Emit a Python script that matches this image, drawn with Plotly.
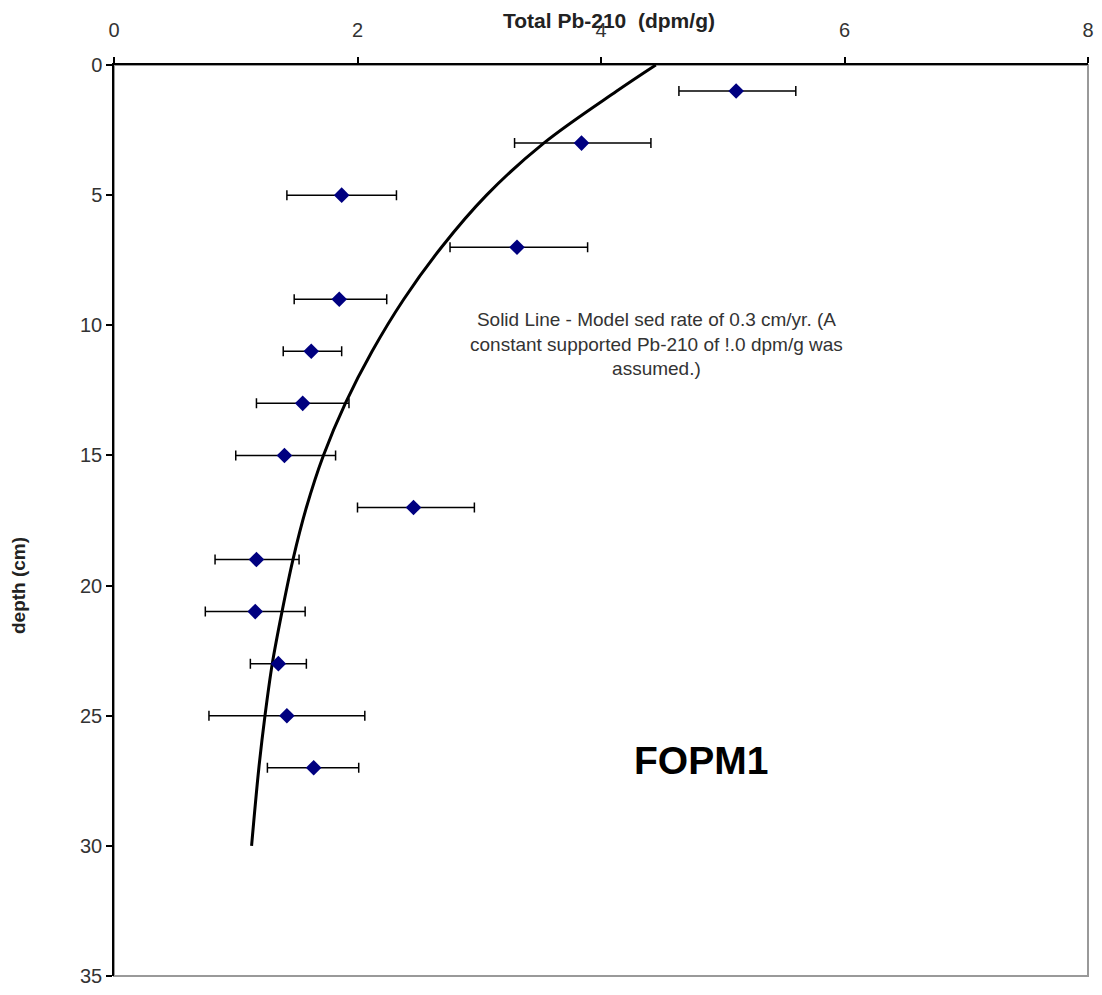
import plotly.graph_objects as go

# Measured Pb-210 data
depth = [1, 3, 5, 7, 9, 11, 13, 15, 17, 19, 21, 23, 25, 27]
pb210 = [5.11, 3.84, 1.87, 3.31, 1.85, 1.62, 1.55, 1.40, 2.46, 1.17, 1.16, 1.35, 1.42, 1.64]
err_plus = [0.49, 0.57, 0.45, 0.58, 0.39, 0.25, 0.38, 0.42, 0.50, 0.35, 0.41, 0.23, 0.64, 0.37]
err_minus = [0.47, 0.55, 0.45, 0.55, 0.37, 0.23, 0.38, 0.40, 0.46, 0.34, 0.41, 0.23, 0.64, 0.38]

# Model curve
model_depth = [0, 1, 3, 5, 7, 9, 11, 13, 15, 17, 19, 21, 23, 25, 27, 30]
model_pb = [4.45, 4.13, 3.53, 3.06, 2.69, 2.38, 2.12, 1.90, 1.72, 1.58, 1.47, 1.38,
            1.30, 1.24, 1.19, 1.13]

x_ticks = [0, 2, 4, 6, 8]
y_ticks = [0, 5, 10, 15, 20, 25, 30, 35]

FONT = "Liberation Sans, Arial, sans-serif"

fig = go.Figure()

fig.add_trace(go.Scatter(
    x=model_pb, y=model_depth, mode="lines",
    line=dict(color="black", width=3, shape="spline", smoothing=1.0),
    showlegend=False, hoverinfo="skip",
))

fig.add_trace(go.Scatter(
    x=pb210, y=depth, mode="markers",
    marker=dict(symbol="diamond", size=12, color="#000080"),
    error_x=dict(type="data", symmetric=False, array=err_plus, arrayminus=err_minus,
                 color="black", thickness=1.5, width=5),
    showlegend=False,
))

fig.update_layout(
    width=1102, height=995,
    margin=dict(l=114, r=8, t=65, b=11),
    paper_bgcolor="white", plot_bgcolor="white",
    font=dict(family=FONT, color="#222"),
    xaxis=dict(
        side="top", range=[0, 8], tickvals=x_ticks, ticktext=[str(v) for v in x_ticks],
        showgrid=False, zeroline=False, showline=True, linecolor="black", linewidth=1.5,
        ticks="outside", ticklen=6, tickcolor="black", tickwidth=1.5,
        tickfont=dict(family=FONT, size=20, color="#333"), ticklabelstandoff=12,
    ),
    yaxis=dict(
        range=[35, 0], tickvals=y_ticks, ticktext=[str(v) for v in y_ticks],
        showgrid=False, zeroline=False, showline=True, linecolor="black", linewidth=1.5,
        ticks="outside", ticklen=6, tickcolor="black", tickwidth=1.5,
        tickfont=dict(family=FONT, size=20, color="#333"), ticklabelstandoff=0,
    ),
    shapes=[dict(type="rect", xref="paper", yref="paper", x0=0, y0=0, x1=1, y1=1,
                 line=dict(color="#999999", width=2), layer="below")],
    annotations=[
        dict(text="<b>Total Pb-210  (dpm/g)</b>", xref="paper", yref="paper",
             x=(612 - 114) / 980, y=1 + (65 - 20) / 919, showarrow=False,
             font=dict(family=FONT, size=21, color="#222"), xanchor="center", yanchor="middle"),
        dict(text="<b>depth (cm)</b>", xref="paper", yref="paper",
             x=(18 - 114) / 980, y=(984 - 590) / 919, showarrow=False, textangle=-90,
             font=dict(family=FONT, size=19, color="#222"), xanchor="center", yanchor="middle"),
        dict(text="Solid Line - Model sed rate of 0.3 cm/yr. (A<br>constant supported Pb-210 of !.0 dpm/g was<br>assumed.)",
             xref="paper", yref="paper", x=(660 - 114) / 980, y=(984 - 346) / 919,
             showarrow=False, align="center", xanchor="center", yanchor="middle",
             font=dict(family=FONT, size=19, color="#333")),
        dict(text="<b>FOPM1</b>", xref="paper", yref="paper",
             x=(705 - 114) / 980, y=(984 - 767) / 919, showarrow=False,
             xanchor="center", yanchor="middle",
             font=dict(family=FONT, size=39, color="black")),
    ],
)

fig.write_html("out.html")
